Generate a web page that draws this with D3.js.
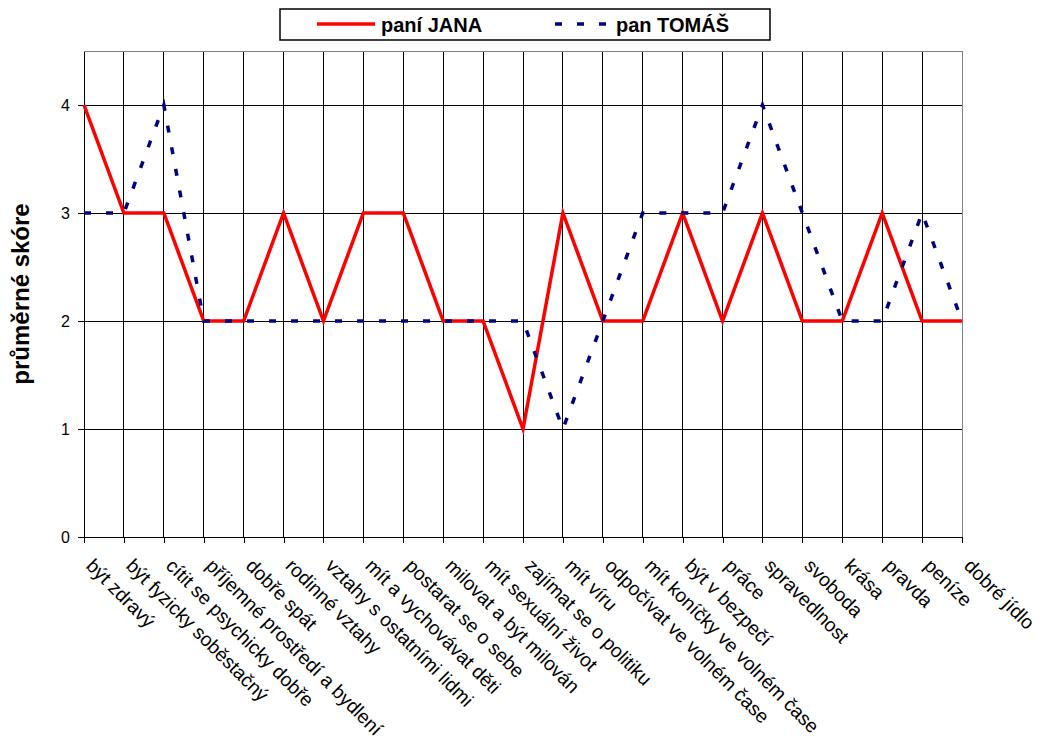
<!DOCTYPE html>
<html>
<head>
<meta charset="utf-8">
<script src="https://cdn.jsdelivr.net/npm/d3@7"></script>
<style>
  html, body { margin: 0; padding: 0; background: #fff; }
  svg { display: block; }
</style>
</head>
<body>
<svg id="chart" width="1039" height="740"></svg>
<script>
const categories = [
  "být zdravý", "být fyzicky soběstačný", "cítit se psychicky dobře",
  "příjemné prostředí a bydlení", "dobře spát", "rodinné vztahy",
  "vztahy s ostatními lidmi", "mít a vychovávat děti", "postarat se o sebe",
  "milovat a být milován", "mít sexuální život", "zajímat se o politiku",
  "mít víru", "odpočívat ve volném čase", "mít koníčky ve volném čase",
  "být v bezpečí", "práce", "spravedlnost", "svoboda", "krása", "pravda",
  "peníze", "dobré jídlo"
];
const jana =  [4, 3, 3, 2, 2, 3, 2, 3, 3, 2, 2, 1, 3, 2, 2, 3, 2, 3, 2, 2, 3, 2, 2];
const tomas = [3, 3, 4, 2, 2, 2, 2, 2, 2, 2, 2, 2, 1, 2, 3, 3, 3, 4, 3, 2, 2, 3, 2];
const yTicks = [0, 1, 2, 3, 4];
const seriesNames = ["paní JANA", "pan TOMÁŠ"];
const yTitle = "průměrné skóre";

const svg = d3.select("#chart");
const L = 84, R = 962, T = 51, B = 537;

const x = d3.scalePoint().domain(categories).range([L, R]);
const y = d3.scaleLinear().domain([0, 4.5]).range([B, T]);

// gridlines
const g = svg.append("g");
g.selectAll("line.hg").data(yTicks.filter(d => d > 0)).join("line")
  .attr("x1", L).attr("x2", R)
  .attr("y1", d => y(d)).attr("y2", d => y(d))
  .attr("stroke", "#000").attr("stroke-width", 1).attr("shape-rendering", "crispEdges");
g.selectAll("line.vg").data(categories.slice(1, -1)).join("line")
  .attr("x1", d => x(d)).attr("x2", d => x(d))
  .attr("y1", T).attr("y2", B)
  .attr("stroke", "#000").attr("stroke-width", 1).attr("shape-rendering", "crispEdges");

// border top/right gray
svg.append("line").attr("x1", L).attr("x2", R).attr("y1", T).attr("y2", T)
  .attr("stroke", "#808080").attr("shape-rendering", "crispEdges");
svg.append("line").attr("x1", R).attr("x2", R).attr("y1", T).attr("y2", B)
  .attr("stroke", "#808080").attr("shape-rendering", "crispEdges");

// Y axis
const yAxis = svg.append("g").attr("transform", `translate(${L},0)`)
  .call(d3.axisLeft(y).tickValues(yTicks).tickSize(6).tickSizeOuter(0).tickFormat(d3.format("d")));
yAxis.select(".domain").attr("stroke", "#000").attr("shape-rendering", "crispEdges");
yAxis.selectAll(".tick line").attr("stroke", "#000").attr("shape-rendering", "crispEdges");
yAxis.selectAll(".tick text")
  .attr("x", -14)
  .attr("font-family", "Liberation Sans, Arial, sans-serif")
  .attr("font-size", 16).attr("fill", "#000");

// X axis
const xAxis = svg.append("g").attr("transform", `translate(0,${B})`)
  .call(d3.axisBottom(x).tickSize(6).tickSizeOuter(0).tickFormat(""));
xAxis.select(".domain").attr("stroke", "#000").attr("shape-rendering", "crispEdges");
xAxis.selectAll(".tick line").attr("stroke", "#000").attr("shape-rendering", "crispEdges");

// category labels rotated 45
svg.append("g").selectAll("text").data(categories).join("text")
  .attr("transform", d => `translate(${x(d) + 1},${B + 30}) rotate(45)`)
  .attr("font-family", "Liberation Sans, Arial, sans-serif")
  .attr("font-size", 19.3).attr("fill", "#000")
  .text(d => d);

// lines
const line = d3.line().x((d, i) => x(categories[i])).y(d => y(d));
svg.append("path").datum(jana).attr("d", line)
  .attr("fill", "none").attr("stroke", "#ff0000").attr("stroke-width", 3.5)
  .attr("stroke-linejoin", "miter");
svg.append("path").datum(tomas).attr("d", line)
  .attr("fill", "none").attr("stroke", "#000080").attr("stroke-width", 3.5)
  .attr("stroke-dasharray", "7,15");

// Y title
svg.append("text")
  .attr("transform", `translate(29,${(T + B) / 2}) rotate(-90)`)
  .attr("text-anchor", "middle")
  .attr("font-family", "Liberation Sans, Arial, sans-serif")
  .attr("font-weight", "bold").attr("font-size", 24).attr("fill", "#000")
  .text(yTitle);

// Legend
const lg = svg.append("g");
lg.append("rect").attr("x", 280).attr("y", 9).attr("width", 490).attr("height", 31)
  .attr("fill", "#fff").attr("stroke", "#000").attr("stroke-width", 1.5);
lg.append("line").attr("x1", 317).attr("x2", 375).attr("y1", 24).attr("y2", 24)
  .attr("stroke", "#ff0000").attr("stroke-width", 3.5);
lg.append("text").attr("x", 381).attr("y", 32)
  .attr("font-family", "Liberation Sans, Arial, sans-serif")
  .attr("font-weight", "bold").attr("font-size", 20).attr("fill", "#000")
  .text(seriesNames[0]);
lg.append("line").attr("x1", 555).attr("x2", 612).attr("y1", 24).attr("y2", 24)
  .attr("stroke", "#000080").attr("stroke-width", 3.5).attr("stroke-dasharray", "7,15");
lg.append("text").attr("x", 616).attr("y", 32)
  .attr("font-family", "Liberation Sans, Arial, sans-serif")
  .attr("font-weight", "bold").attr("font-size", 20).attr("fill", "#000")
  .text(seriesNames[1]);
</script>
</body>
</html>
